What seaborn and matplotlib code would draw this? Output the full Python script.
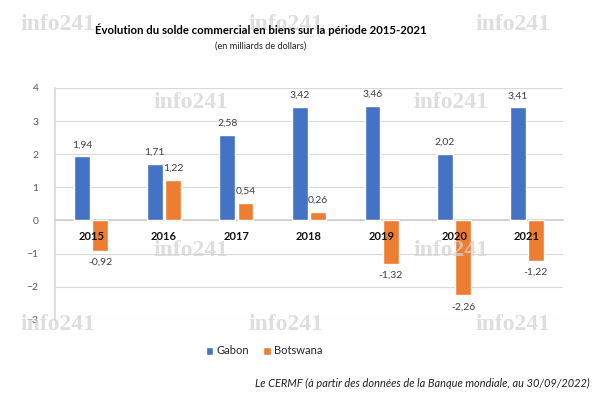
import matplotlib
matplotlib.use("Agg")
import matplotlib.pyplot as plt
import seaborn as sns
import pandas as pd

# data (milliards de dollars)
years = ["2015", "2016", "2017", "2018", "2019", "2020", "2021"]
gabon = [1.94, 1.71, 2.58, 3.42, 3.46, 2.02, 3.41]
botswana = [-0.92, 1.22, 0.54, 0.26, -1.32, -2.26, -1.22]
countries = ["Gabon", "Botswana"]
colors = ["#4472C4", "#ED7D31"]

df = pd.DataFrame({
    "annee": years * 2,
    "pays": ["Gabon"] * len(years) + ["Botswana"] * len(years),
    "solde": gabon + botswana,
})

sns.set_theme(style="white")
plt.rcParams["font.family"] = ["Lato", "DejaVu Sans"]

fig = plt.figure(figsize=(6, 3.94), dpi=100)
ax = fig.add_axes([0.0917, 0.188, 0.8466, 0.589])

# watermarks
wm_pos = [(20, 25), (248, 25), (475, 25), (153, 102), (413, 102),
          (153, 250), (413, 250), (20, 325), (248, 325), (475, 325)]
for x, y in wm_pos:
    fig.text(x / 600, 1 - y / 394, "info241", family="Liberation Serif",
             fontsize=17, fontweight="bold", color="#d4d4d4", alpha=0.75,
             va="center", ha="left", zorder=0)

sns.barplot(data=df, x="annee", y="solde", hue="pays", order=years,
            hue_order=countries, palette=colors, width=0.5, gap=0.12,
            saturation=1, ax=ax, zorder=3)

for cont, vals in zip(ax.containers, [gabon, botswana]):
    ax.bar_label(cont, labels=[f"{v:.2f}".replace(".", ",") for v in vals],
                 padding=5, fontsize=7.5, color="#404040")

# year labels just under the zero line, drawn over the bars
for i, yr in enumerate(years):
    ax.annotate(yr, xy=(i, 0), xytext=(0, -11.5), textcoords="offset points",
                ha="center", va="center", fontsize=8, fontweight="bold",
                color="#111111", zorder=6)

ax.set_ylim(-3, 4)
ax.set_xlim(-0.5, 6.5)
ax.set_yticks(range(-3, 5))
ax.yaxis.grid(True, color="#d9d9d9", linewidth=0.8, zorder=0)
ax.set_axisbelow(True)
ax.spines["bottom"].set_position(("data", 0))
ax.spines["bottom"].set_color("#d0d0d0")
ax.spines["left"].set_color("#d9d9d9")
ax.spines["left"].set_linewidth(1.2)
ax.spines["top"].set_visible(False)
ax.spines["right"].set_visible(False)
ax.tick_params(axis="x", length=0, labelbottom=False)
ax.tick_params(axis="y", length=0, pad=12, labelsize=7.5, labelcolor="#595959")
ax.set_xlabel("")
ax.set_ylabel("")

sns.move_legend(ax, "center", bbox_to_anchor=(264 / 600, 1 - 351 / 394),
                bbox_transform=fig.transFigure, ncol=2, frameon=False,
                title=None, fontsize=8, handlelength=0.7, handleheight=0.7,
                handletextpad=0.3, columnspacing=1.2)

fig.text(261 / 600, 1 - 30 / 394,
         "Évolution du solde commercial en biens sur la période 2015-2021",
         ha="center", va="center", fontsize=8.2, fontweight="bold", color="#000000")
fig.text(261 / 600, 1 - 46 / 394, "(en milliards de dollars)",
         ha="center", va="center", fontsize=6.6, color="#222222")
fig.text(590 / 600, 1 - 383 / 394,
         "Le CERMF (à partir des données de la Banque mondiale, au 30/09/2022)",
         ha="right", va="center", fontsize=7.9, style="italic", color="#222222")

fig.savefig("out.png", dpi=100)
